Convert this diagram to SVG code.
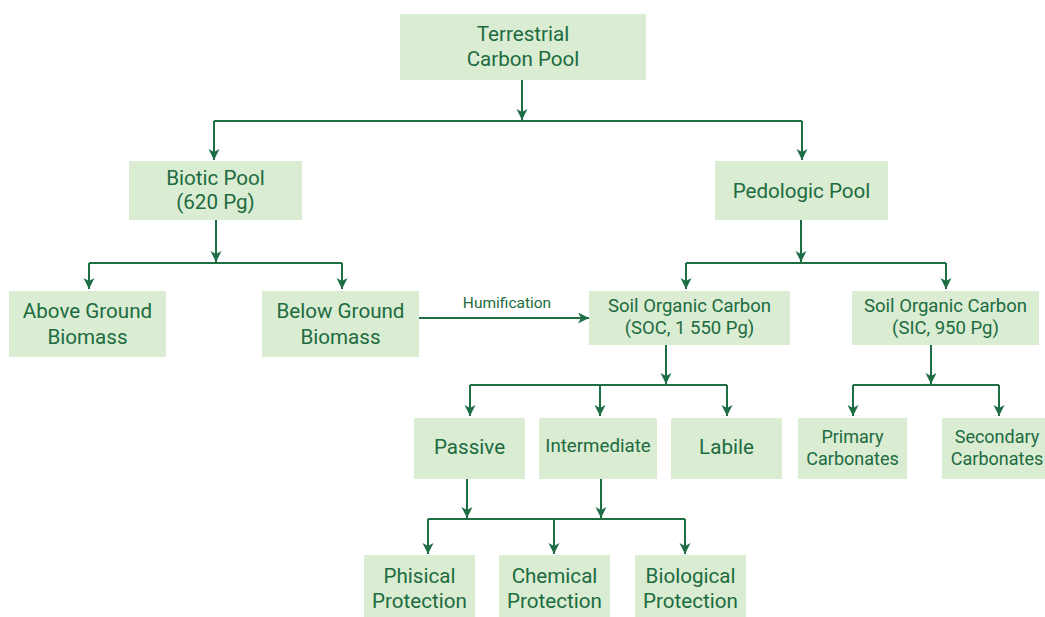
<svg xmlns="http://www.w3.org/2000/svg" width="1045" height="617" viewBox="0 0 1045 617">
<style>
.box{fill:#daecd1;}
.t{font-family:Roboto,"Liberation Sans",sans-serif;fill:#1c6b41;text-anchor:middle;font-size:20.6px;}
.s{font-size:18px;}
.w{font-size:18.5px;}
.m{font-size:18.7px;}
.lbl{font-size:15.5px;}
.c{fill:none;stroke:#1e6e45;stroke-width:2;}
.a{marker-end:url(#ah);}
</style>
<defs>
<marker id="ah" markerUnits="userSpaceOnUse" markerWidth="12" markerHeight="12" refX="11" refY="5.5" orient="auto">
<path d="M0,0 L11,5.5 L0,11 L3,5.5 z" fill="#1e6e45"/>
</marker>
</defs>
<rect width="1045" height="617" fill="#ffffff"/>
<g id="connectors">
<path class="c a" d="M522,80 V120"/>
<path class="c" d="M214,121 H802"/>
<path class="c a" d="M214,121 V160"/>
<path class="c a" d="M802,121 V160"/>
<path class="c a" d="M216,220 V262"/>
<path class="c" d="M89,263 H342"/>
<path class="c a" d="M89,263 V289"/>
<path class="c a" d="M342,263 V289"/>
<path class="c a" d="M801,220 V262"/>
<path class="c" d="M686,263 H946"/>
<path class="c a" d="M686,263 V289"/>
<path class="c a" d="M946,263 V289"/>
<path class="c a" d="M419,318 H589"/>
<text class="t lbl" x="507" y="308">Humification</text>
<path class="c a" d="M666,345 V384"/>
<path class="c" d="M470,385 H727"/>
<path class="c a" d="M470,385 V416"/>
<path class="c a" d="M600,385 V416"/>
<path class="c a" d="M727,385 V416"/>
<path class="c a" d="M931,345 V384"/>
<path class="c" d="M853,385 H999"/>
<path class="c a" d="M853,385 V416"/>
<path class="c a" d="M999,385 V416"/>
<path class="c a" d="M467,479 V518"/>
<path class="c a" d="M601,479 V518"/>
<path class="c" d="M428,519 H685"/>
<path class="c a" d="M428,519 V554"/>
<path class="c a" d="M554,519 V554"/>
<path class="c a" d="M685,519 V554"/>
</g>
<g id="terrestrial"><rect class="box" x="400" y="14" width="246" height="66"/><text class="t" x="523" y="41">Terrestrial</text><text class="t" x="523" y="66">Carbon Pool</text></g>
<g id="biotic"><rect class="box" x="129" y="161" width="173" height="59"/><text class="t" x="215.5" y="185">Biotic Pool</text><text class="t" x="215.5" y="209">(620 Pg)</text></g>
<g id="pedologic"><rect class="box" x="715" y="161" width="173" height="59"/><text class="t" x="801.5" y="198">Pedologic Pool</text></g>
<g id="above"><rect class="box" x="9" y="291" width="157" height="66"/><text class="t" x="87.5" y="318">Above Ground</text><text class="t" x="87.5" y="344">Biomass</text></g>
<g id="below"><rect class="box" x="262" y="291" width="157" height="66"/><text class="t" x="340.5" y="318">Below Ground</text><text class="t" x="340.5" y="344">Biomass</text></g>
<g id="soc"><rect class="box" x="589" y="291" width="201" height="54"/><text class="t w" x="689.5" y="312">Soil Organic Carbon</text><text class="t w" x="689.5" y="334">(SOC, 1 550 Pg)</text></g>
<g id="sic"><rect class="box" x="852" y="291" width="187" height="54"/><text class="t w" x="945.5" y="312">Soil Organic Carbon</text><text class="t w" x="945.5" y="334">(SIC, 950 Pg)</text></g>
<g id="passive"><rect class="box" x="414" y="418" width="111" height="61"/><text class="t" x="469.5" y="454">Passive</text></g>
<g id="intermediate"><rect class="box" x="539" y="418" width="118" height="61"/><text class="t m" x="598" y="452">Intermediate</text></g>
<g id="labile"><rect class="box" x="671" y="418" width="111" height="61"/><text class="t" x="726.5" y="454">Labile</text></g>
<g id="primary"><rect class="box" x="798" y="418" width="109" height="61"/><text class="t s" x="852.5" y="443">Primary</text><text class="t s" x="852.5" y="465">Carbonates</text></g>
<g id="secondary"><rect class="box" x="942" y="418" width="110" height="61"/><text class="t s" x="997" y="443">Secondary</text><text class="t s" x="997" y="465">Carbonates</text></g>
<g id="physical"><rect class="box" x="364" y="555" width="111" height="62"/><text class="t" x="419.5" y="583">Phisical</text><text class="t" x="419.5" y="608">Protection</text></g>
<g id="chemical"><rect class="box" x="499" y="555" width="111" height="62"/><text class="t" x="554.5" y="583">Chemical</text><text class="t" x="554.5" y="608">Protection</text></g>
<g id="biological"><rect class="box" x="635" y="555" width="111" height="62"/><text class="t" x="690.5" y="583">Biological</text><text class="t" x="690.5" y="608">Protection</text></g>
</svg>
